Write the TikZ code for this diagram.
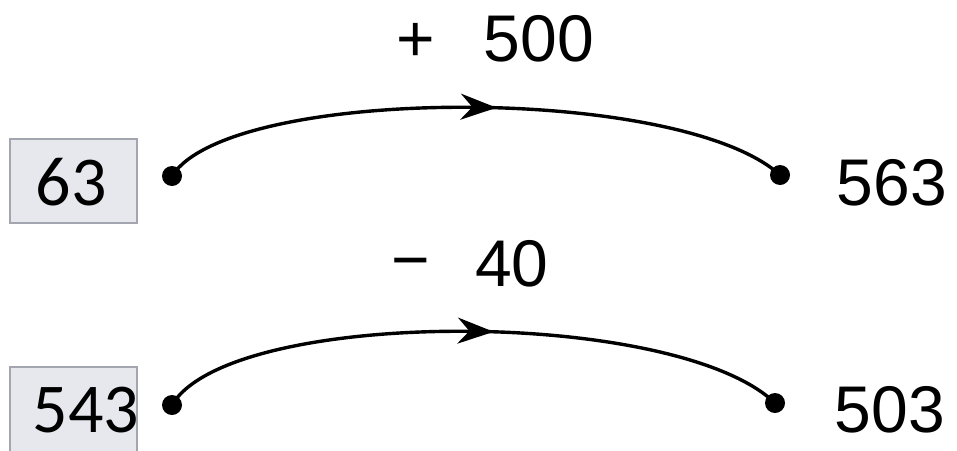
\documentclass[tikz,border=0pt]{standalone}
\usepackage{fontspec}
\setmainfont{Liberation Sans}
\newfontfamily\boxfont{Carlito}
\usetikzlibrary{arrows.meta,decorations.markings}
\definecolor{boxfill}{HTML}{E7E8EE}
\definecolor{boxline}{HTML}{A3A6AE}
\tikzset{
  numbox/.style={draw=boxline, fill=boxfill, line width=1.2pt, minimum width=127pt, minimum height=84pt, inner sep=0pt},
  boxtext/.style={font=\boxfont\fontsize{70}{70}\selectfont, inner sep=0pt, anchor=center},
  label/.style={font=\fontsize{66}{66}\selectfont, inner sep=0pt, anchor=center},
  dot/.style={circle, fill=black, minimum size=20pt, inner sep=0pt},
  arc/.style={line width=3.4pt, postaction={decorate}, decoration={markings, mark=at position 0.535 with {\arrow{Stealth[length=36pt,width=26pt]}}}}
}
\begin{document}
\begin{tikzpicture}[x=1pt,y=-1pt]
\useasboundingbox (0,0) rectangle (957,450);
\clip (0,0) rectangle (957,450);
% boxes
\node[numbox] (b1) at (73.5,181) {};
\node[numbox, minimum height=90pt] (b2) at (73.5,412) {};
\node[boxtext] (t1) at (71,182) {63};
\node[boxtext] (t2) at (86,410) {543};
% dots
\node[dot] (d1) at (172,176) {};
\node[dot] (d2) at (780,175) {};
\node[dot] (d3) at (172,405) {};
\node[dot] (d4) at (775,403) {};
% arcs
\draw[arc] (d1.center) .. controls +(58,-91) and +(-100,-91) .. (d2.center);
\draw[arc] (d3.center) .. controls +(58,-98) and +(-100,-96) .. (d4.center);
% labels
\node[label] (p) at (416,42) {+};
\node[label] (n1) at (539,39) {500};
\node[label] (m) at (411,270) {−};
\node[label] (n2) at (512,264) {40};
\node[label] (r1) at (892,183) {563};
\node[label] (r2) at (890,410) {503};
\end{tikzpicture}
\end{document}
